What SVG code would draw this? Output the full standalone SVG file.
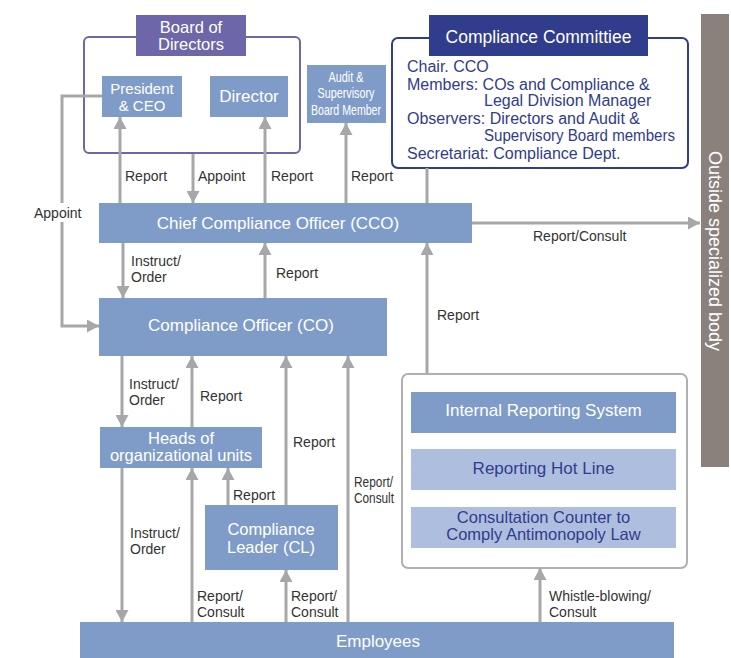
<svg xmlns="http://www.w3.org/2000/svg" width="731" height="658" viewBox="0 0 731 658">
<style>
.n{fill:#7f9cc9}
.l{fill:#aebedf}
.t{font-family:"Liberation Sans",Arial,sans-serif;font-size:17px;fill:#fff;text-anchor:middle}
.t2{font-size:16.5px}
.d{fill:#303c8c}
.lab{font-family:"Liberation Sans",Arial,sans-serif;font-size:14px;fill:#333}
.cm{font-family:"Liberation Sans",Arial,sans-serif;font-size:16px;fill:#303c8c}
.c{fill:none;stroke:#a7a7a7;stroke-width:3}
.a{marker-end:url(#ah)}
</style>
<defs>
<marker id="ah" markerUnits="userSpaceOnUse" markerWidth="12" markerHeight="13" refX="12" refY="6.5" orient="auto">
<path d="M0,0 L12,6.5 L0,13 z" fill="#a7a7a7"/>
</marker>
</defs>
<rect width="731" height="658" fill="#fff"/>

<g id="board">
<rect x="84" y="37" width="216" height="116" rx="5" fill="none" stroke="#6d66a8" stroke-width="2"/>
<rect x="136" y="15" width="110" height="41" fill="#6d66a8"/>
<text class="t t2" x="191" y="33">Board of</text>
<text class="t t2" x="191" y="50">Directors</text>
</g>
<g id="president">
<rect class="n" x="102" y="76" width="80" height="41"/>
<text class="t" x="142" y="94" style="font-size:15px">President</text>
<text class="t" x="142" y="111" style="font-size:15px">&amp; CEO</text>
</g>
<g id="director">
<rect class="n" x="210" y="76" width="78" height="41"/>
<text class="t" x="249" y="102">Director</text>
</g>
<g id="audit">
<rect class="n" x="307" y="65" width="79" height="58"/>
<text class="t" x="346" y="82" style="font-size:14px" textLength="35" lengthAdjust="spacingAndGlyphs">Audit &amp;</text>
<text class="t" x="346" y="98" style="font-size:14px" textLength="57" lengthAdjust="spacingAndGlyphs">Supervisory</text>
<text class="t" x="346" y="115" style="font-size:14px" textLength="70" lengthAdjust="spacingAndGlyphs">Board Member</text>
</g>
<g id="committee">
<rect x="392" y="38" width="296" height="130" rx="6" fill="#fff" stroke="#303c8c" stroke-width="2"/>
<rect class="d" x="429" y="15" width="219" height="41"/>
<text class="t" x="538.5" y="43" style="font-size:17.5px">Compliance Committiee</text>
<text class="cm" x="407" y="72">Chair. CCO</text>
<text class="cm" x="407" y="90">Members: COs and Compliance &amp;</text>
<text class="cm" x="484" y="106">Legal Division Manager</text>
<text class="cm" x="407" y="124">Observers: Directors and Audit &amp;</text>
<text class="cm" x="484" y="141" textLength="191" lengthAdjust="spacingAndGlyphs">Supervisory Board members</text>
<text class="cm" x="407" y="159">Secretariat: Compliance Dept.</text>
</g>
<g id="outside">
<rect x="701" y="14" width="28" height="453" fill="#8a817d"/>
<text class="t" transform="translate(709,251) rotate(90)" style="font-size:18px">Outside specialized body</text>
</g>
<g id="cco">
<rect class="n" x="99" y="203" width="373" height="40"/>
<text class="t" x="278" y="229">Chief Compliance Officer (CCO)</text>
</g>
<g id="co">
<rect class="n" x="99" y="298" width="288" height="58"/>
<text class="t" x="241" y="331">Compliance Officer (CO)</text>
</g>
<g id="heads">
<rect class="n" x="100" y="427" width="162" height="41"/>
<text class="t t2" x="181" y="444">Heads of</text>
<text class="t t2" x="181" y="461">organizational units</text>
</g>
<g id="cl">
<rect class="n" x="205" y="505" width="133" height="65"/>
<text class="t t2" x="271" y="535">Compliance</text>
<text class="t t2" x="271" y="553">Leader (CL)</text>
</g>
<g id="employees">
<rect class="n" x="80" y="622" width="594" height="36"/>
<text class="t" x="378" y="647">Employees</text>
</g>
<g id="internal">
<rect x="402" y="374" width="285" height="194" rx="6" fill="#fff" stroke="#b0b0b0" stroke-width="2"/>
<rect class="n" x="411" y="392" width="265" height="41"/>
<text class="t" x="543.5" y="416">Internal Reporting System</text>
<rect class="l" x="411" y="449" width="265" height="41"/>
<text class="t" x="543.5" y="474" style="fill:#303c8c">Reporting Hot Line</text>
<rect class="l" x="411" y="507" width="265" height="41"/>
<text class="t t2" x="543.5" y="523" style="fill:#303c8c">Consultation Counter to</text>
<text class="t t2" x="543.5" y="540" style="fill:#303c8c">Comply Antimonopoly Law</text>
</g>

<g id="connectors">
<path class="c a" d="M102,96 H62 V326 H99"/>
<path class="c a" d="M120,203 V117"/>
<path class="c a" d="M193,154 V203"/>
<path class="c a" d="M265,203 V117"/>
<path class="c a" d="M346,203 V123"/>
<path class="c" d="M427,168 V203"/>
<path class="c a" d="M472,223 H700"/>
<path class="c a" d="M427,374 V243"/>
<path class="c a" d="M123,243 V298"/>
<path class="c a" d="M265,298 V243"/>
<path class="c a" d="M122,356 V427"/>
<path class="c a" d="M192,427 V356"/>
<path class="c a" d="M286,505 V356"/>
<path class="c a" d="M348,622 V356"/>
<path class="c a" d="M122,468 V622"/>
<path class="c a" d="M192,622 V468"/>
<path class="c a" d="M228,505 V468"/>
<path class="c a" d="M286,622 V570"/>
<path class="c a" d="M540,622 V568"/>
</g>

<g id="labels">
<rect x="33" y="203" width="50" height="19" fill="#fff"/>
<text class="lab" x="34" y="218">Appoint</text>
<text class="lab" x="125" y="181">Report</text>
<text class="lab" x="198" y="181">Appoint</text>
<text class="lab" x="271" y="181">Report</text>
<text class="lab" x="351" y="181">Report</text>
<text class="lab" x="533" y="241">Report/Consult</text>
<text class="lab" x="437" y="320">Report</text>
<text class="lab" x="131" y="266">Instruct/</text>
<text class="lab" x="131" y="282">Order</text>
<text class="lab" x="276" y="278">Report</text>
<text class="lab" x="129" y="389">Instruct/</text>
<text class="lab" x="129" y="405">Order</text>
<text class="lab" x="200" y="401">Report</text>
<text class="lab" x="293" y="447">Report</text>
<text class="lab" x="354" y="487" textLength="39" lengthAdjust="spacingAndGlyphs">Report/</text>
<text class="lab" x="354" y="503" textLength="40" lengthAdjust="spacingAndGlyphs">Consult</text>
<text class="lab" x="233" y="500">Report</text>
<text class="lab" x="130" y="538">Instruct/</text>
<text class="lab" x="130" y="554">Order</text>
<text class="lab" x="197" y="601">Report/</text>
<text class="lab" x="197" y="617">Consult</text>
<text class="lab" x="291" y="601">Report/</text>
<text class="lab" x="291" y="617">Consult</text>
<text class="lab" x="549" y="601">Whistle-blowing/</text>
<text class="lab" x="549" y="617">Consult</text>
</g>
</svg>
